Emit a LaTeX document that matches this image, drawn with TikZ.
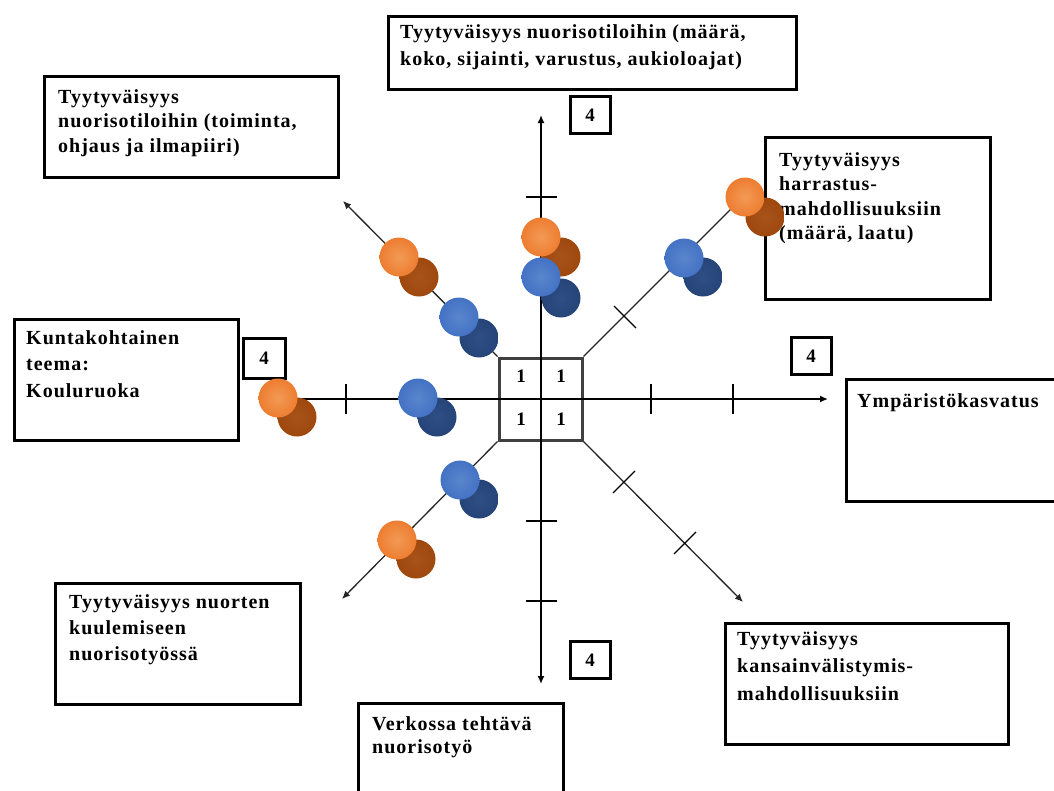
\documentclass[tikz,border=0pt]{standalone}
\usepackage{fontspec}
\setmainfont{Liberation Serif}
\newfontfamily\lblfont{Liberation Serif}[LetterSpace=5]
\usetikzlibrary{arrows.meta}
\definecolor{orL}{HTML}{ED7D31}
\definecolor{orLc}{HTML}{F39A55}
\definecolor{orD}{HTML}{9E480E}
\definecolor{orDc}{HTML}{A8531A}
\definecolor{blL}{HTML}{4472C4}
\definecolor{blLc}{HTML}{5A86CC}
\definecolor{blD}{HTML}{264478}
\definecolor{blDc}{HTML}{2E4F85}
\begin{document}
\begin{tikzpicture}[x=1pt,y=-1pt,
  box/.style={draw=black, line width=3pt, fill=white, anchor=north west, inner sep=0pt},
  txt/.style={anchor=base west, inner sep=0pt, font=\lblfont\bfseries\fontsize{20}{25}\selectfont},
  numbox/.style={draw=black, line width=3pt, fill=white, minimum width=40pt, minimum height=37pt, inner sep=0pt, font=\lblfont\bfseries\fontsize{19}{22}\selectfont},
  num/.style={inner sep=0pt, font=\lblfont\bfseries\fontsize{19}{22}\selectfont},
  axis/.style={line width=2pt, draw=black, -{Latex[length=8pt,width=7pt]}},
  diag/.style={line width=1.3pt, draw=black!85, -{Latex[length=8pt,width=7pt]}},
  tickmark/.style={line width=2pt, draw=black},
  ball/.style={circle, minimum size=39pt, inner sep=0pt, draw=none},
  ballOL/.style={ball, shading=radial, inner color=orLc, outer color=orL},
  ballOD/.style={ball, shading=radial, inner color=orDc, outer color=orD},
  ballBL/.style={ball, shading=radial, inner color=blLc, outer color=blL},
  ballBD/.style={ball, shading=radial, inner color=blDc, outer color=blD}]
\useasboundingbox (0,0) rectangle (1054,790);
\clip (0,0) rectangle (1054,790);
\fill[white] (0,0) rectangle (1054,790);

% ---- text boxes ----
\node[box, minimum width=408pt, minimum height=73pt] (b1) at (387,15) {};
\node[txt] (t1) at (400,38) {\parbox[t]{400pt}{\raggedright\baselineskip=27pt Tyytyväisyys nuorisotiloihin (määrä,\\ koko, sijainti, varustus, aukioloajat)}};

\node[box, minimum width=294pt, minimum height=101pt] (b2) at (43,75) {};
\node[txt] (t2) at (58,103) {\parbox[t]{300pt}{\raggedright\baselineskip=24.5pt Tyytyväisyys\\ nuorisotiloihin (toiminta,\\ ohjaus ja ilmapiiri)}};

\node[box, minimum width=225pt, minimum height=162pt] (b3) at (764,136) {};
\node[txt] (t3) at (779,166) {\parbox[t]{300pt}{\raggedright\baselineskip=24.5pt Tyytyväisyys\\ harrastus-\\ mahdollisuuksiin\\ (määrä, laatu)}};

\node[box, minimum width=224pt, minimum height=121pt] (b4) at (13,318) {};
\node[txt] (t4) at (26,344) {\parbox[t]{300pt}{\raggedright\baselineskip=26.5pt Kuntakohtainen\\ teema:\\ Kouluruoka}};

\node[box, minimum width=230pt, minimum height=122pt] (b5) at (845,378) {};
\node[txt] (t5) at (857,407) {Ympäristökasvatus};

\node[box, minimum width=245pt, minimum height=121pt] (b6) at (54,582) {};
\node[txt] (t6) at (69,608) {\parbox[t]{300pt}{\raggedright\baselineskip=26pt Tyytyväisyys nuorten\\ kuulemiseen\\ nuorisotyössä}};

\node[box, minimum width=283pt, minimum height=121pt] (b7) at (724,622) {};
\node[txt] (t7) at (737,645) {\parbox[t]{300pt}{\raggedright\baselineskip=27.5pt Tyytyväisyys\\ kansainvälistymis-\\ mahdollisuuksiin}};

\node[box, minimum width=205pt, minimum height=110pt] (b8) at (357,702) {};
\node[txt] (t8) at (372,730) {\parbox[t]{300pt}{\raggedright\baselineskip=23pt Verkossa tehtävä\\ nuorisotyö}};

% ---- central square ----
\node[draw=black!75, line width=3pt, minimum width=83pt, minimum height=82pt, inner sep=0pt] (sq) at (540.5,399) {};

% ---- axes ----
\coordinate (vt) at (541,115);
\coordinate (vb) at (541,684);
\coordinate (hl) at (290,399);
\coordinate (hr) at (828,399);
\coordinate (ul) at (343,201);
\coordinate (ll) at (342,599);
\coordinate (ur) at (752,188);
\coordinate (lr) at (743,602);
\draw[axis] (541,399) -- (vt);
\draw[axis] (541,399) -- (vb);
\draw[axis] (541,399) -- (hr);
\draw[line width=2pt] (541,399) -- (hl);
\draw[diag] (sq.north west) -- (ul);
\draw[diag] (sq.south west) -- (ll);
\draw[line width=1.3pt, draw=black!85] (sq.north east) -- (ur);
\draw[diag] (sq.south east) -- (lr);

% ---- tick marks ----
\draw[tickmark] (526,197) -- (557,197);
\draw[tickmark] (526,521) -- (557,521);
\draw[tickmark] (526,601) -- (557,601);
\draw[tickmark] (346,384) -- (346,414);
\draw[tickmark] (651,384) -- (651,414);
\draw[tickmark] (733,384) -- (733,414);
\draw[line width=1.3pt] (614,306) -- (636,328);
\draw[line width=1.3pt] (613,493) -- (635,471);
\draw[line width=1.3pt] (674,554) -- (696,532);

% ---- numbers ----
\node[num] (n1) at (521,376) {1};
\node[num] (n2) at (561,376) {1};
\node[num] (n3) at (521,419) {1};
\node[num] (n4) at (561,419) {1};
\node[numbox] (f1) at (590,115) {4};
\node[numbox, minimum width=42pt, minimum height=40pt] (f2) at (264,358) {4};
\node[numbox] (f3) at (811,356) {4};
\node[numbox] (f4) at (590,660) {4};

% ---- circles ----
\node[ballOD] (od1) at (419,277) {};
\node[ballBD] (bd1) at (479,338) {};
\node[ballOD] (od2) at (561,257) {};
\node[ballBD] (bd2) at (561,298) {};
\node[ballOD] (od3) at (765,217) {};
\node[ballBD] (bd3) at (703,277) {};
\node[ballOD] (od4) at (297,417) {};
\node[ballBD] (bd4) at (437,417) {};
\node[ballBD] (bd5) at (479,499) {};
\node[ballOD] (od5) at (416,559) {};

\node[ballOL] (ol1) at (399,257) {};
\node[ballBL] (bl1) at (459,317) {};
\node[ballOL] (ol2) at (541,237) {};
\node[ballBL] (bl2) at (541,277) {};
\node[ballOL] (ol3) at (745,197) {};
\node[ballBL] (bl3) at (684,258) {};
\node[ballOL] (ol4) at (278,398) {};
\node[ballBL] (bl4) at (418,398) {};
\node[ballBL] (bl5) at (460,480) {};
\node[ballOL] (ol5) at (397,540) {};
\end{tikzpicture}
\end{document}
